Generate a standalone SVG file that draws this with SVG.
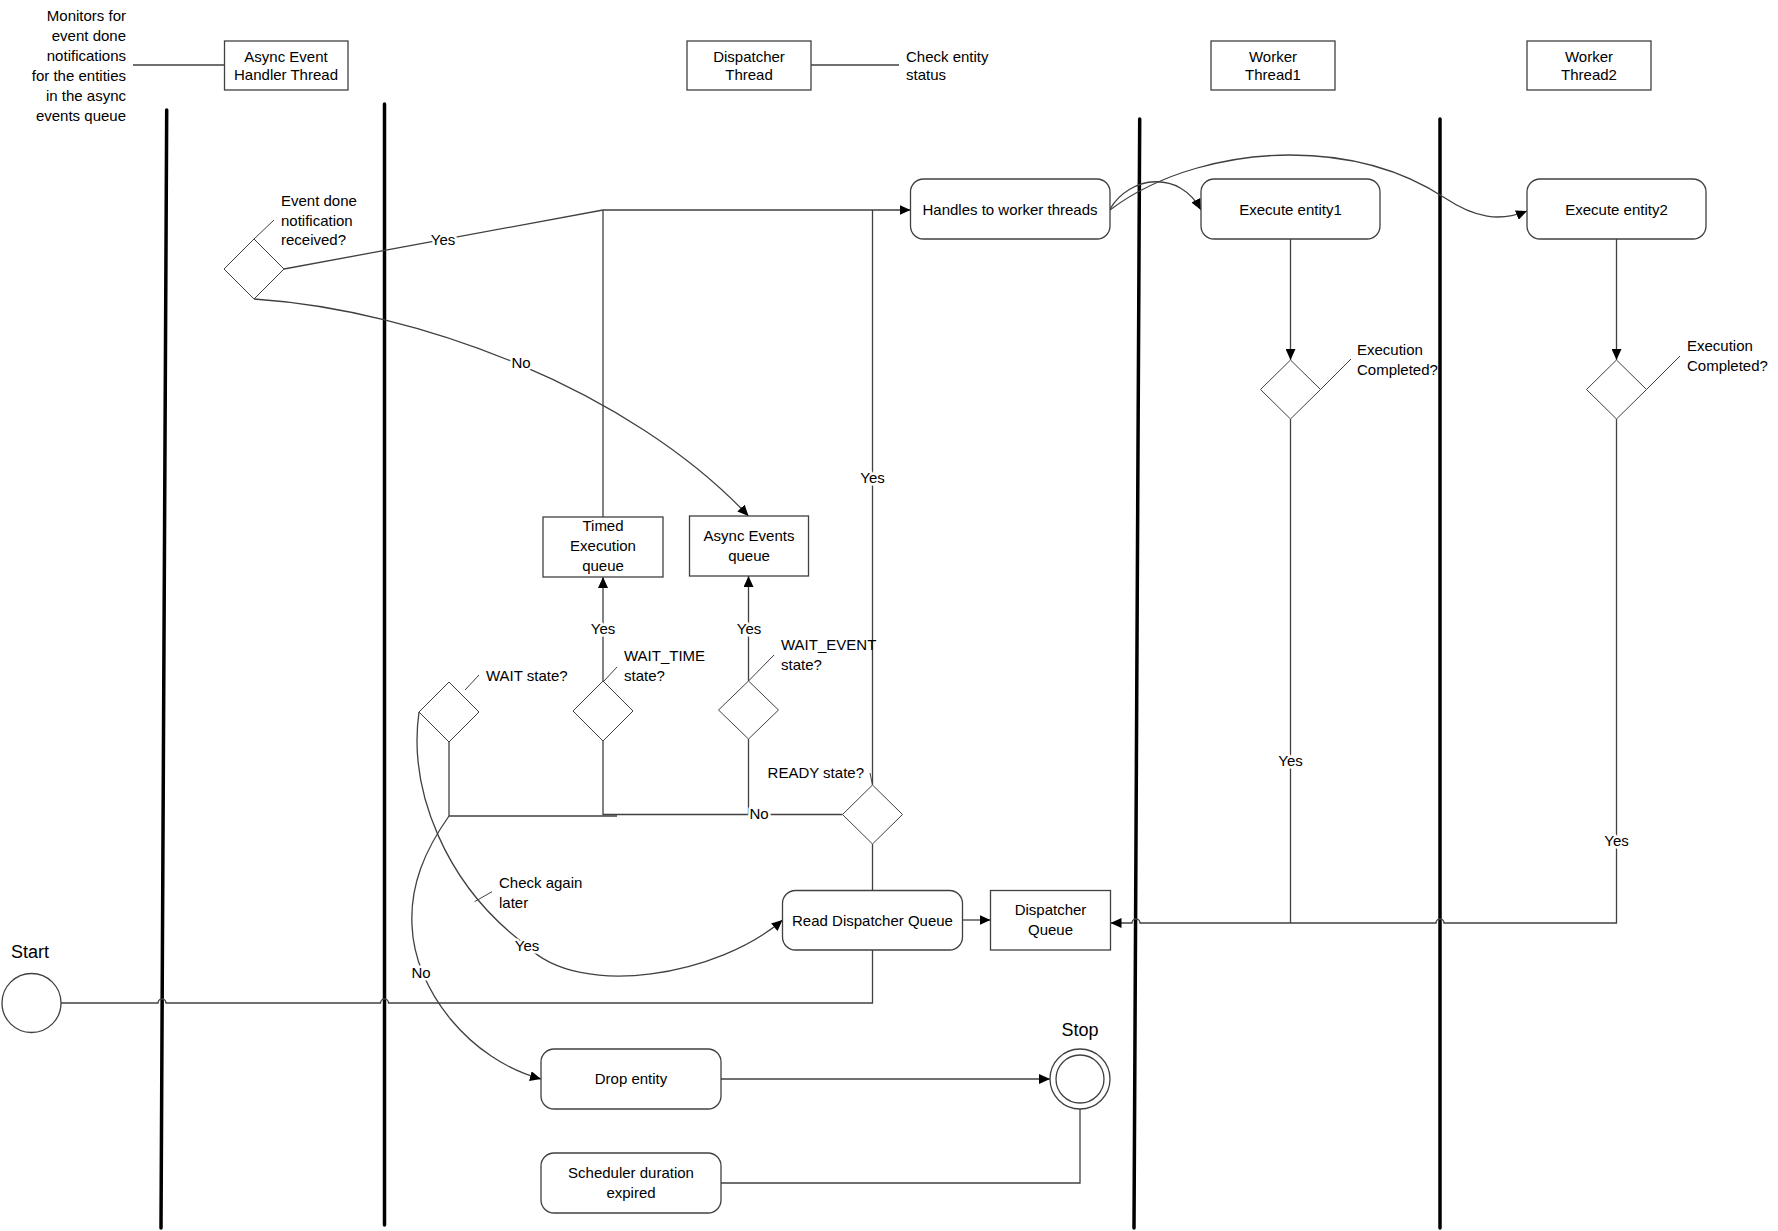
<svg xmlns="http://www.w3.org/2000/svg" width="1778" height="1231" viewBox="0 0 1778 1231">
<style>
.t{font-family:"Liberation Sans",Arial,sans-serif;font-size:15px;fill:#000}
.c{text-anchor:middle}
.e{text-anchor:end}
.big{font-size:18px}
.lbl{paint-order:stroke;stroke:#fff;stroke-width:5px;stroke-linejoin:round}
.box{fill:#fff;stroke:#404040;stroke-width:1.3}
.dia{fill:#fff;stroke:#404040;stroke-width:1}
.lane{stroke:#000;stroke-width:3.5;stroke-linecap:round}
.ln{fill:none;stroke:#404040;stroke-width:1.3}
.tk{fill:none;stroke:#404040;stroke-width:1}
.arr{marker-end:url(#ah)}
</style>
<defs>
<marker id="ah" markerUnits="userSpaceOnUse" markerWidth="12" markerHeight="10" refX="11" refY="5" orient="auto">
<path d="M0,0 L11,5 L0,10 z" fill="#000"/>
</marker>
</defs>
<rect width="1778" height="1231" fill="#fff"/>

<g id="lanes">
<line class="lane" x1="166.7" y1="110" x2="161" y2="1228"/>
<line class="lane" x1="384.5" y1="104" x2="384.5" y2="1225"/>
<line class="lane" x1="1139.7" y1="119" x2="1134" y2="1228"/>
<line class="lane" x1="1440" y1="119" x2="1440" y2="1228"/>
</g>

<g id="headers">
<g id="note-monitors">
<text class="t e" x="126" y="21">Monitors for</text>
<text class="t e" x="126" y="41">event done</text>
<text class="t e" x="126" y="61">notifications</text>
<text class="t e" x="126" y="81">for the entities</text>
<text class="t e" x="126" y="101">in the async</text>
<text class="t e" x="126" y="121">events queue</text>
</g>
<g id="hdr-async">
<rect class="box" x="224.5" y="41" width="123.5" height="49"/>
<text class="t c" x="286" y="61.5">Async Event</text>
<text class="t c" x="286" y="80">Handler Thread</text>
</g>
<g id="hdr-dispatcher">
<rect class="box" x="687" y="41" width="124" height="49"/>
<text class="t c" x="749" y="61.5">Dispatcher</text>
<text class="t c" x="749" y="80">Thread</text>
</g>
<g id="note-check">
<text class="t" x="906" y="62">Check entity</text>
<text class="t" x="906" y="80">status</text>
</g>
<g id="hdr-worker1">
<rect class="box" x="1211" y="41" width="124" height="49"/>
<text class="t c" x="1273" y="61.5">Worker</text>
<text class="t c" x="1273" y="80">Thread1</text>
</g>
<g id="hdr-worker2">
<rect class="box" x="1527" y="41" width="124" height="49"/>
<text class="t c" x="1589" y="61.5">Worker</text>
<text class="t c" x="1589" y="80">Thread2</text>
</g>
</g>

<g id="connectors">
<line class="ln" x1="133" y1="65" x2="224.5" y2="65"/>
<line class="ln" x1="811" y1="65" x2="899" y2="65"/>
<path class="ln arr" d="M284,269 L603,210 L910.5,210"/>
<path class="ln" d="M603,517 L603,210"/>
<path class="ln" d="M872.5,785 L872.5,210"/>
<path class="ln arr" d="M254,299 C420,310 630,390 748.5,516"/>
<path class="ln arr" d="M1110,209 C1130,175 1180,170 1201,210"/>
<path class="ln arr" d="M1110,210 C1160,172 1230,155 1290,155 C1360,155 1410,175 1445,198 C1475,218 1500,222 1527,211"/>
<path class="ln arr" d="M1290.5,239 L1290.5,360"/>
<path class="ln arr" d="M1616.5,239 L1616.5,360"/>
<path class="ln" d="M1290.5,419 L1290.5,923"/>
<path class="ln arr" d="M1616.5,419 L1616.5,923 L1444,923 A4,4 0 0 0 1436,923 L1140,923 A4,4 0 0 0 1132,923 L1110.5,923"/>
<path class="ln arr" d="M962.5,920 L990.5,920"/>
<path class="ln" d="M872.5,844 L872.5,890.5"/>
<path class="ln" d="M61,1003 L158,1003 A4,4 0 0 1 166,1003 L380.5,1003 A4,4 0 0 1 388.5,1003 L872.5,1003 L872.5,950"/>
<path class="ln" d="M842.5,814.5 L603,814.5 L603,741"/>
<path class="ln" d="M748.5,739 L748.5,814.5"/>
<path class="ln" d="M449,742 L449,816 L617,816"/>
<path class="ln arr" d="M603,681 L603,577"/>
<path class="ln arr" d="M748.5,681 L748.5,576"/>
<path class="ln arr" d="M419,712 C408,790 445,885 527,946 C580,1000 720,975 782.5,920"/>
<path class="ln arr" d="M449,816 C425,850 410,885 412,925 C414,990 470,1060 541,1079"/>
<path class="ln arr" d="M721,1079 L1050,1079"/>
<path class="ln" d="M721,1183 L1080,1183 L1080,1109"/>
<text class="t c lbl" x="443" y="245">Yes</text>
<text class="t c lbl" x="521" y="368">No</text>
<text class="t c lbl" x="872.5" y="483">Yes</text>
<text class="t c lbl" x="603" y="634">Yes</text>
<text class="t c lbl" x="749" y="634">Yes</text>
<text class="t c lbl" x="759" y="819">No</text>
<text class="t c lbl" x="527" y="951">Yes</text>
<text class="t c lbl" x="421" y="978">No</text>
<text class="t c lbl" x="1290.5" y="766">Yes</text>
<text class="t c lbl" x="1616.5" y="846">Yes</text>
</g>

<g id="n-event-done">
<polygon class="dia" points="254,239 284,269 254,299 224,269"/>
<line class="tk" x1="254" y1="239" x2="274" y2="220"/>
<text class="t" x="281" y="206">Event done</text>
<text class="t" x="281" y="226">notification</text>
<text class="t" x="281" y="245">received?</text>
</g>
<g id="n-handles">
<rect class="box" x="910.5" y="179" width="199.5" height="60" rx="13"/>
<text class="t c" x="1010" y="215">Handles to worker threads</text>
</g>
<g id="n-exec1">
<rect class="box" x="1201" y="179" width="179" height="60" rx="13"/>
<text class="t c" x="1290.5" y="215">Execute entity1</text>
</g>
<g id="n-exec2">
<rect class="box" x="1527" y="179" width="179" height="60" rx="13"/>
<text class="t c" x="1616.5" y="215">Execute entity2</text>
</g>
<g id="n-completed1">
<polygon class="dia" points="1290.5,360 1320.5,389.5 1290.5,419 1260.5,389.5"/>
<line class="tk" x1="1320.5" y1="389.5" x2="1351" y2="359"/>
<text class="t" x="1357" y="355">Execution</text>
<text class="t" x="1357" y="375">Completed?</text>
</g>
<g id="n-completed2">
<polygon class="dia" points="1616.5,360 1646.5,389.5 1616.5,419 1586.5,389.5"/>
<line class="tk" x1="1646.5" y1="389.5" x2="1680" y2="356"/>
<text class="t" x="1687" y="351">Execution</text>
<text class="t" x="1687" y="371">Completed?</text>
</g>
<g id="n-timed-queue">
<rect class="box" x="543" y="517" width="120" height="60"/>
<text class="t c" x="603" y="531">Timed</text>
<text class="t c" x="603" y="551">Execution</text>
<text class="t c" x="603" y="571">queue</text>
</g>
<g id="n-async-queue">
<rect class="box" x="689.5" y="516" width="119" height="60"/>
<text class="t c" x="749" y="541">Async Events</text>
<text class="t c" x="749" y="561">queue</text>
</g>
<g id="n-wait">
<polygon class="dia" points="449,682 479,712 449,742 419,712"/>
<line class="tk" x1="465" y1="690" x2="479" y2="675"/>
<text class="t" x="486" y="681">WAIT state?</text>
</g>
<g id="n-wait-time">
<polygon class="dia" points="603,681 633,711 603,741 573,711"/>
<line class="tk" x1="604" y1="681" x2="617" y2="667"/>
<text class="t" x="624" y="661">WAIT_TIME</text>
<text class="t" x="624" y="681">state?</text>
</g>
<g id="n-wait-event">
<polygon class="dia" points="748.5,681 778.5,710 748.5,739 718.5,710"/>
<line class="tk" x1="748.5" y1="681" x2="774" y2="655"/>
<text class="t" x="781" y="650">WAIT_EVENT</text>
<text class="t" x="781" y="670">state?</text>
</g>
<g id="n-ready">
<polygon class="dia" points="872.5,785 902.5,814.5 872.5,844 842.5,814.5"/>
<line class="tk" x1="872.5" y1="785" x2="870" y2="773"/>
<text class="t e" x="864" y="778">READY state?</text>
</g>
<g id="n-check-again">
<line class="tk" x1="474.5" y1="901.7" x2="492" y2="891.7"/>
<text class="t" x="499" y="888">Check again</text>
<text class="t" x="499" y="908">later</text>
</g>
<g id="n-read-dq">
<rect class="box" x="782.5" y="890.5" width="180" height="59.5" rx="13"/>
<text class="t c" x="872.5" y="925.5">Read Dispatcher Queue</text>
</g>
<g id="n-dq">
<rect class="box" x="990.5" y="890.5" width="120" height="59.5"/>
<text class="t c" x="1050.5" y="915">Dispatcher</text>
<text class="t c" x="1050.5" y="935">Queue</text>
</g>
<g id="n-start">
<circle class="box" cx="31.5" cy="1003" r="29.5"/>
<text class="t c big" x="30" y="958">Start</text>
</g>
<g id="n-stop">
<circle class="box" cx="1080" cy="1079" r="30"/>
<circle class="box" cx="1080" cy="1079" r="24"/>
<text class="t c big" x="1080" y="1036">Stop</text>
</g>
<g id="n-drop">
<rect class="box" x="541" y="1049" width="180" height="60" rx="13"/>
<text class="t c" x="631" y="1084">Drop entity</text>
</g>
<g id="n-scheduler">
<rect class="box" x="541" y="1153" width="180" height="60" rx="13"/>
<text class="t c" x="631" y="1178">Scheduler duration</text>
<text class="t c" x="631" y="1198">expired</text>
</g>
</svg>
